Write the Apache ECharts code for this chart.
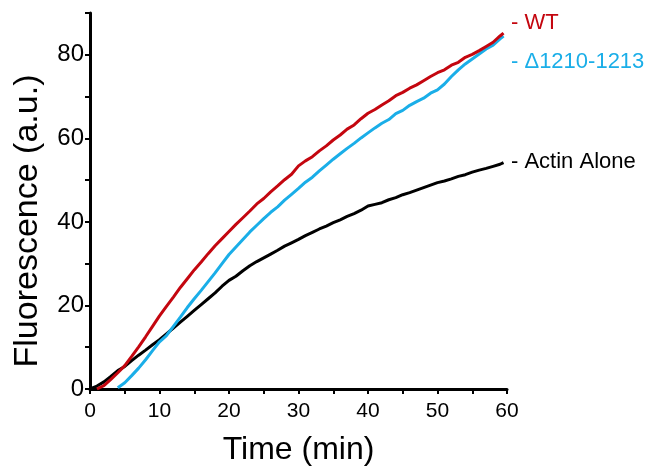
<!DOCTYPE html>
<html lang="en">
<head>
  <meta charset="UTF-8">
  <title>Fluorescence</title>
  <script src="https://cdn.jsdelivr.net/npm/echarts@6/dist/echarts.min.js"></script>
  <style>
    html, body { margin: 0; padding: 0; background: #fff; }
    #main { width: 652px; height: 471px; }
  </style>
</head>
<body>
<div id="main"></div>
<script>
// time points (min)
var times = [0, 1, 2, 3, 4, 5, 6, 7, 8, 9, 10, 11, 12, 13, 14, 15, 16, 17, 18, 19,
  20, 21, 22, 23, 24, 25, 26, 27, 28, 29, 30, 31, 32, 33, 34, 35, 36, 37, 38, 39,
  40, 41, 42, 43, 44, 45, 46, 47, 48, 49, 50, 51, 52, 53, 54, 55, 56, 57, 58, 59, 59.5];

var wt = [null, 0, 0.8, 2.3, 3.9, 5.6, 7.8, 10.1, 12.5, 15.0, 17.5, 19.8, 22.0, 24.3, 26.4, 28.5, 30.4, 32.4, 34.3, 36.0,
  37.7, 39.4, 41.0, 42.6, 44.3, 45.6, 47.2, 48.6, 50.1, 51.4, 53.4, 54.6, 55.6, 57.0, 58.2, 59.6, 60.8, 62.2, 63.2, 64.7,
  66.0, 66.9, 68.0, 69.0, 70.2, 71.0, 72.0, 72.8, 73.8, 74.8, 75.7, 76.4, 77.5, 78.2, 79.4, 80.1, 81.0, 82.0, 83.0, 84.5, 85.2];

var delta = [null, null, null, null, 0.3, 1.5, 3.2, 5.0, 7.0, 9.2, 11.3, 12.8, 15.0, 17.2, 19.5, 21.6, 23.6, 25.7, 27.8, 30.0,
  32.2, 34.0, 35.8, 37.6, 39.2, 40.8, 42.3, 43.6, 45.2, 46.6, 48.0, 49.5, 50.7, 52.2, 53.6, 55.0, 56.3, 57.6, 58.8, 60.1,
  61.3, 62.5, 63.6, 64.5, 65.9, 66.7, 67.9, 68.8, 69.6, 70.8, 71.6, 73.0, 74.8, 76.4, 77.8, 79.0, 80.2, 81.4, 82.3, 83.8, 84.5];

var actin = [0, 0.7, 1.7, 3.0, 4.4, 5.4, 6.8, 8.1, 9.3, 10.6, 11.8, 13.2, 14.6, 16.0, 17.4, 18.8, 20.2, 21.6, 23.0, 24.6,
  26.0, 27.0, 28.3, 29.5, 30.5, 31.4, 32.3, 33.2, 34.2, 35.0, 35.8, 36.7, 37.5, 38.3, 39.0, 39.8, 40.5, 41.3, 42.0, 42.8,
  43.8, 44.2, 44.6, 45.3, 45.8, 46.5, 47.0, 47.6, 48.2, 48.8, 49.4, 49.8, 50.3, 50.9, 51.3, 51.9, 52.4, 52.8, 53.3, 53.8, 54.2];

var seriesNames = ['WT', '\u03941210-1213', 'Actin Alone'];
var seriesColors = ['#c4060f', '#1aaee8', '#000000'];

function pairs(vals) {
  var out = [];
  for (var i = 0; i < times.length; i++) {
    if (vals[i] !== null) out.push([times[i], vals[i]]);
  }
  return out;
}

var font = 'Liberation Sans, Arial, sans-serif';
var myChart = echarts.init(document.getElementById('main'));

var option = {
  backgroundColor: '#fff',
  animation: false,
  grid: { left: 90, right: 145, top: 13, bottom: 82 },
  xAxis: {
    type: 'value',
    min: 0, max: 60, interval: 5,
    name: 'Time (min)',
    nameLocation: 'middle',
    nameGap: 45,
    nameTextStyle: { fontFamily: font, fontSize: 32, color: '#000' },
    splitLine: { show: false },
    axisLine: { lineStyle: { color: '#000', width: 3 } },
    axisTick: { length: 5, lineStyle: { color: '#000', width: 2 } },
    axisLabel: {
      fontFamily: font, fontSize: 21, color: '#000', margin: 12,
      formatter: function(v) { return v % 10 === 0 ? v : ''; }
    }
  },
  yAxis: {
    type: 'value',
    min: 0, max: 90, interval: 10,
    name: 'Fluorescence (a.u.)',
    nameLocation: 'middle',
    nameGap: 45,
    nameTextStyle: { fontFamily: font, fontSize: 34, color: '#000', padding: [0, 40, 0, 0] },
    splitLine: { show: false },
    axisLine: { lineStyle: { color: '#000', width: 3 } },
    axisTick: { length: 5, lineStyle: { color: '#000', width: 2 } },
    axisLabel: {
      fontFamily: font, fontSize: 24, color: '#000', margin: 6,
      formatter: function(v) { return v % 20 === 0 ? v : ''; }
    }
  },
  graphic: [
    { type: 'text', left: 511, top: 12, style: { text: '- ' + seriesNames[0], font: '22px ' + font, fill: seriesColors[0] } },
    { type: 'text', left: 511, top: 51, style: { text: '- ' + seriesNames[1], font: '22px ' + font, fill: seriesColors[1] } },
    { type: 'text', left: 511, top: 151, style: { text: '- ' + seriesNames[2], font: '22px ' + font, fill: seriesColors[2] } }
  ],
  series: [
    { name: seriesNames[2], type: 'line', data: pairs(actin), showSymbol: false, lineStyle: { color: seriesColors[2], width: 3 } },
    { name: seriesNames[1], type: 'line', data: pairs(delta), showSymbol: false, lineStyle: { color: seriesColors[1], width: 3 } },
    { name: seriesNames[0], type: 'line', data: pairs(wt), showSymbol: false, lineStyle: { color: seriesColors[0], width: 3 } }
  ]
};
myChart.setOption(option);
</script>
</body>
</html>
